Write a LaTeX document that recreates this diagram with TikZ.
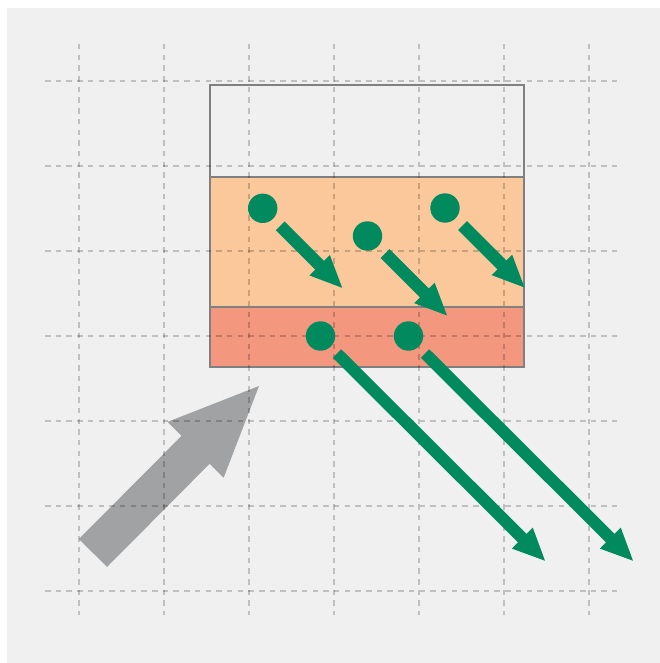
\documentclass[tikz,border=0pt]{standalone}
\usetikzlibrary{calc}
\definecolor{bggray}{HTML}{F0F0F0}
\definecolor{sand}{HTML}{FBC89C}
\definecolor{salmon}{HTML}{F4977F}
\definecolor{leaf}{HTML}{008A5E}
\definecolor{stone}{HTML}{A1A2A4}
\definecolor{framegray}{HTML}{808080}

% Block arrow as a filled polygon: tail, tip, shaft half-width, head half-width, head length, style
\newcommand\blockarrow[6]{%
  \coordinate (hb) at ($(#2)!#5!(#1)$);
  \fill[#6] ($(#1)!#3!90:(#2)$) -- ($(hb)!#3!-90:(#1)$) -- ($(hb)!#4!-90:(#1)$) -- (#2)
    -- ($(hb)!#4!90:(#1)$) -- ($(hb)!#3!90:(#1)$) -- ($(#1)!#3!-90:(#2)$) -- cycle;
}

\tikzset{
  gridline/.style={draw=black, draw opacity=0.2, line width=1.2pt, dash pattern=on 5.5pt off 5.2pt},
  dot/.style={circle, fill=leaf, draw=none, inner sep=0pt, minimum size=29.4pt},
  frameline/.style={draw=framegray, line width=1.2pt},
}

\begin{document}
\begin{tikzpicture}[x=1pt,y=-1pt]
  \useasboundingbox (0,0) rectangle (660,663);
  \fill[white] (0,0) rectangle (660,663);
  \fill[bggray] (7,8) rectangle (660,663);

  % layered block
  \fill[sand] (210,177) rectangle (524,307);
  \fill[salmon] (210,307) rectangle (524,367);
  \draw[frameline] (210,85) rectangle (524,367);
  \draw[frameline] (210,177) -- (524,177);
  \draw[frameline] (210,307) -- (524,307);

  % incoming beam
  \coordinate (g0) at (93,553);
  \coordinate (g1) at (259,386);
  \blockarrow{g0}{g1}{19.8pt}{39.6pt}{90pt}{stone}

  % dashed grid
  \foreach \k in {0,...,6} {
    \draw[gridline] (79+85*\k,44) -- (79+85*\k,615);
    \draw[gridline] (45,81+85*\k) -- (617,81+85*\k);
  }

  % emitters
  \node[dot] (e1) at (262.7,208.3) {};
  \node[dot] (e2) at (367.5,236) {};
  \node[dot] (e3) at (445,208) {};
  \node[dot] (e4) at (320.5,336) {};
  \node[dot] (e5) at (408.5,336) {};

  % short emission arrows
  \foreach \e in {e1,e2,e3} {
    \coordinate (\e t) at ($(\e)+(17.5,17.5)$);
    \coordinate (\e h) at ($(\e)+(79.5,79.5)$);
    \blockarrow{\e t}{\e h}{6.2pt}{14.5pt}{32pt}{leaf}
  }
  % long emission arrows
  \foreach \e in {e4,e5} {
    \coordinate (\e t) at ($(\e)+(16.5,17.5)$);
    \coordinate (\e h) at ($(\e)+(224.5,224.7)$);
    \blockarrow{\e t}{\e h}{6pt}{14.8pt}{32pt}{leaf}
  }
\end{tikzpicture}
\end{document}
